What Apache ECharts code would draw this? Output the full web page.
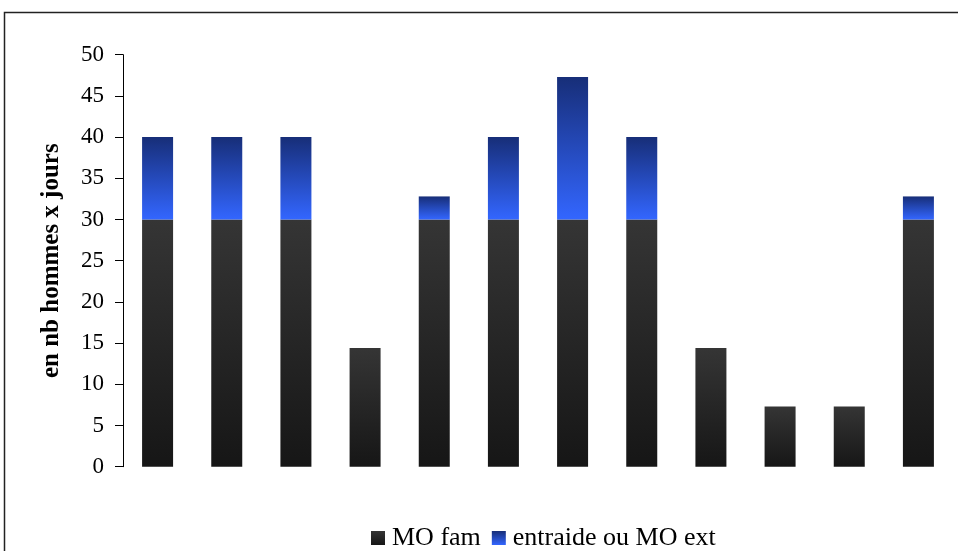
<!DOCTYPE html>
<html><head><meta charset="utf-8">
<script src="https://cdn.jsdelivr.net/npm/echarts@6/dist/echarts.min.js"></script>
<style>html,body{margin:0;padding:0;background:#fff}#c{width:958px;height:551px}</style>
</head><body><div id="c"></div>
<script>
var categories = ['1','2','3','4','5','6','7','8','9','10','11','12'];
var moFam = [30, 30, 30, 14.4, 30, 30, 30, 30, 14.4, 7.3, 7.3, 30];
var entraide = [10, 10, 10, 0, 2.8, 10, 17.3, 10, 0, 0, 0, 2.8];
var yTicks = [0, 5, 10, 15, 20, 25, 30, 35, 40, 45, 50];

var font = '"Liberation Serif", "Times New Roman", serif';
var chart = echarts.init(document.getElementById('c'));
var darkGrad = new echarts.graphic.LinearGradient(0,0,0,1,[{offset:0,color:'#353535'},{offset:1,color:'#161616'}]);
var blueGrad = new echarts.graphic.LinearGradient(0,0,0,1,[{offset:0,color:'#172e78'},{offset:1,color:'#3366ff'}]);
chart.setOption({
  animation: false,
  graphic: [{type:'rect', shape:{x:4.5,y:12.5,width:1000,height:600}, style:{fill:'none',stroke:'#222',lineWidth:1.5}, silent:true}],
  grid: {left:123, right:5, top:54.7, bottom:84.3, containLabel:false},
  legend: {
    left: 366, top: 520, itemWidth: 14, itemHeight: 14, itemGap: 11,
    icon: 'rect',
    textStyle: {fontFamily: font, fontSize: 26, color: '#000', padding:[0,0,0,2]},
    data: [{name:'MO fam', itemStyle:{color:darkGrad}}, {name:'entraide ou MO ext', itemStyle:{color:blueGrad}}]
  },
  xAxis: {
    type:'category', data: categories,
    axisLine:{show:false}, axisTick:{show:false}, axisLabel:{show:false}
  },
  yAxis: {
    type:'value', min: yTicks[0], max: yTicks[yTicks.length-1], interval: 5,
    name: 'en nb hommes x jours', nameLocation:'middle', nameGap: 59,
    nameTextStyle: {fontFamily: font, fontSize: 25, fontWeight:'bold', color:'#000'},
    axisLine:{show:true, lineStyle:{color:'#000', width:1}},
    axisTick:{show:true, length:8, lineStyle:{color:'#000'}},
    axisLabel:{fontFamily: font, fontSize: 23, color:'#000', margin: 19},
    splitLine:{show:false}
  },
  series: [
    {name:'MO fam', type:'bar', stack:'s', data: moFam, barWidth: 31, itemStyle:{color: darkGrad}},
    {name:'entraide ou MO ext', type:'bar', stack:'s', data: entraide, barWidth: 31, itemStyle:{color: blueGrad}}
  ]
});
</script></body></html>
